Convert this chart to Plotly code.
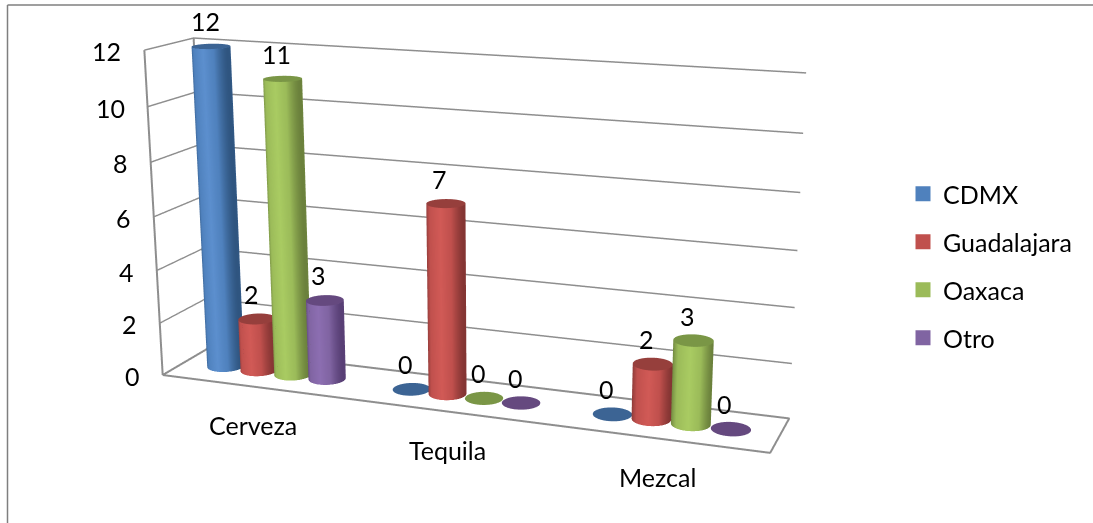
import numpy as np
import plotly.graph_objects as go

categories = ["Cerveza", "Tequila", "Mezcal"]
series_names = ["CDMX", "Guadalajara", "Oaxaca", "Otro"]
cdmx = [12, 0, 0]
guadalajara = [2, 7, 2]
oaxaca = [11, 0, 3]
otro = [3, 0, 0]
z_ticks = [0, 2, 4, 6, 8, 10, 12]

series_values = [cdmx, guadalajara, oaxaca, otro]
base = ["#4F81BD", "#C0504D", "#9BBB59", "#8064A2"]
light = ["#5C8FCE", "#D15A56", "#A9CB62", "#8C6EB1"]
dark = ["#2F5580", "#843533", "#6B813C", "#583F75"]
cap = ["#3C6494", "#963F3C", "#7A9646", "#65497F"]
FONT = "Lato"
FS = 25
GRID = "#8E8E8E"

# page layout: the plot is taller than the window and shifted up so the lens centre falls right
FIG_W, FIG_H, SHIFT = 1093, 1376, 430
def py(y):
    return 1 - (y + SHIFT) / FIG_H
def px(x):
    return x / FIG_W

SPACING = 0.185
R_X = 0.09
ASPECT = dict(x=2.875, y=0.426, z=1.524)
R_Y = R_X * (ASPECT["x"] / 3) / ASPECT["y"]
FLAT = dict(ambient=1, diffuse=0, specular=0, fresnel=0)
TXT = dict(family=FONT, size=FS, color="black")

fig = go.Figure()
t = np.linspace(0, 2 * np.pi, 73)
for i, vals in enumerate(series_values):
    cs = [[0, dark[i]], [0.22, base[i]], [0.55, light[i]], [0.8, base[i]], [1, dark[i]]]
    for c, v in enumerate(vals):
        xc = c + 0.5 + (i - 1.5) * SPACING
        yc = 0.5
        if v > 0:
            X = np.outer(xc + R_X * np.cos(t), [1, 1])
            Y = np.outer(yc + R_Y * np.sin(t), [1, 1])
            Z = np.outer(np.ones_like(t), [0, v])
            sc = np.outer(np.cos(t), [1, 1])
            fig.add_trace(go.Surface(x=X, y=Y, z=Z, surfacecolor=sc, cmin=-1, cmax=1, colorscale=cs,
                                     showscale=False, hoverinfo="skip", lighting=FLAT))
        rr = np.array([0, 1.0])
        X = xc + np.outer(np.cos(t), rr) * R_X
        Y = yc + np.outer(np.sin(t), rr) * R_Y
        Z = np.full_like(X, v)
        fig.add_trace(go.Surface(x=X, y=Y, z=Z, surfacecolor=np.zeros_like(X), cmin=-1, cmax=1,
                                 colorscale=[[0, cap[i]], [1, cap[i]]], showscale=False, hoverinfo="skip",
                                 lighting=FLAT))

# frame of the walls and floor
zmax = max(z_ticks)
n = len(categories)
fx = [0, n, n, 0, 0, None, 0, 0, None, 0, 0]
fy = [0, 0, 1, 1, 0, None, 0, 0, None, 1, 1]
fz = [0, 0, 0, 0, 0, None, 0, zmax, None, 0, zmax]
fig.add_trace(go.Scatter3d(x=fx, y=fy, z=fz, mode="lines", line=dict(color=GRID, width=4),
                           hoverinfo="skip", showlegend=False))

# legend entries
for i, name in enumerate(series_names):
    fig.add_trace(go.Scatter(x=[None], y=[None], mode="markers", name=name, legendgroup=name,
                             marker=dict(symbol="square", size=15, color=base[i])))

annotations = []
for i, vals in enumerate(series_values):
    for c, v in enumerate(vals):
        annotations.append(dict(x=c + 0.5 + (i - 1.5) * SPACING, y=0.5, z=v, text=str(v), showarrow=False,
                                xshift=-6, yshift=25, font=TXT))
for v in z_ticks:
    annotations.append(dict(x=0, y=0, z=v, text=str(v), showarrow=False, xanchor="right",
                            xshift=-21, yshift=-1, font=TXT))
for c, name in enumerate(categories):
    annotations.append(dict(x=c + 0.5, y=0, z=0, text=name, showarrow=False, xshift=-1, yshift=-38, font=TXT))

def axis(**kw):
    d = dict(title="", showbackground=False, zeroline=False, showspikes=False, showline=False,
             ticks="", showticklabels=False)
    d.update(kw)
    return d

fig.update_layout(
    width=FIG_W, height=FIG_H, margin=dict(l=0, r=0, t=0, b=0),
    paper_bgcolor="white", plot_bgcolor="white",
    font=TXT,
    xaxis=dict(visible=False), yaxis=dict(visible=False),
    scene=dict(
        domain=dict(x=[0, 1], y=[0, 1]),
        aspectmode="manual", aspectratio=ASPECT,
        camera=dict(eye=dict(x=2.594, y=-6.616, z=1.826), center=dict(x=0.334, y=0.14, z=-0.118),
                    up=dict(x=0.074, y=-0.243, z=1), projection=dict(type="perspective")),
        xaxis=axis(range=[0, n], tickvals=[0.5, 1.5, 2.5], showgrid=False),
        yaxis=axis(range=[0, 1], showgrid=False),
        zaxis=axis(range=[0, zmax], tickvals=z_ticks, showgrid=True, gridcolor=GRID, gridwidth=3),
        annotations=annotations,
    ),
    legend=dict(x=px(903), xanchor="left", y=py(171), yanchor="top", tracegroupgap=12.5,
                font=TXT, bgcolor="rgba(0,0,0,0)"),
    shapes=[
        dict(type="line", xref="paper", yref="paper", x0=px(7.5), x1=px(7.5), y0=py(5), y1=py(523),
             line=dict(color="#7F7F7F", width=1.5)),
        dict(type="line", xref="paper", yref="paper", x0=px(7.5), x1=1, y0=py(5), y1=py(5),
             line=dict(color="#7F7F7F", width=1.5)),
    ],
)

post = ("var g=document.getElementById('{plot_id}');g.style.position='absolute';g.style.left='0px';"
        "g.style.top='-%dpx';document.documentElement.style.overflow='hidden';"
        "document.body.style.overflow='hidden';" % SHIFT)
fig.write_html("out.html", post_script=post)
